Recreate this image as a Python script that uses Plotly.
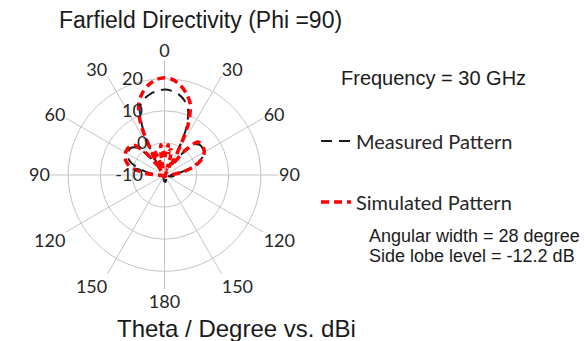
import plotly.graph_objects as go

# Theta cut (degrees, 0 = boresight, negative = left half)
theta_deg = [-180, -175, -170, -165, -160, -155, -150, -145, -140, -135, -130, -125,
             -120, -115, -110, -105, -100, -95, -90, -85, -80, -75, -70, -65,
             -60, -55, -50, -45, -40, -35, -30, -25, -20, -15, -10, -5,
             0, 5, 10, 15, 20, 25, 30, 35, 40, 45, 50, 55,
             60, 65, 70, 75, 80, 85, 90, 95, 100, 105, 110, 115,
             120, 125, 130, 135, 140, 145, 150, 155, 160, 165, 170, 175, 180]

# Measured directivity (dBi)
measured_dbi = [-8.0, -8.2, -8.6, -9.0, -9.3, -9.5, -9.6, -9.5, -9.4, -9.5, -9.6, -9.5,
                -9.4, -9.3, -9.2, -9.1, -9.0, -8.8, -8.0, -6.5, -4.0, -1.5, 1.0, 2.5,
                3.2, 3.5, 3.3, 2.0, -2.0, -6.0, -3.0, 6.0, 12.5, 14.5, 15.6, 16.3,
                16.6, 16.3, 15.5, 14.0, 11.5, 6.0, -3.0, -6.0, -1.0, 3.5, 4.5, 4.5,
                4.2, 3.0, 1.0, -1.5, -4.5, -7.0, -8.0, -7.0, -7.5, -8.5, -9.2, -9.5,
                -9.6, -9.5, -9.4, -9.5, -9.6, -9.5, -9.3, -9.0, -8.6, -8.2, -7.9, -7.8, -8.0]

# Simulated directivity (dBi)
simulated_dbi = [-9.5, -9.5, -9.6, -9.6, -9.5, -9.5, -9.6, -9.6, -9.5, -9.5, -9.6, -9.6,
                 -9.5, -9.5, -9.4, -9.3, -9.2, -9.0, -7.5, -4.0, -1.0, 1.5, 2.8, 3.6,
                 4.0, 4.1, 4.0, 3.0, -1.0, -6.5, -3.0, 7.5, 13.5, 16.5, 18.5, 19.8,
                 20.3, 19.8, 18.4, 16.3, 13.5, 7.5, -2.0, -6.5, 0.0, 4.5, 5.0, 4.8,
                 4.3, 3.2, 1.5, -1.0, -4.0, -7.0, -8.5, -9.0, -9.3, -9.5, -9.5, -9.6,
                 -9.6, -9.5, -9.5, -9.6, -9.6, -9.5, -9.5, -9.6, -9.6, -9.5, -9.5, -9.5, -9.5]

# Simulated rear-hemisphere ripple folded onto the same cut (dBi)
ripple_theta = [-45, -35, -28, -24, -20, -15, -10, -7, -3, 0, 3, 7, 10, 13, 15, 18, 22, 28, 35, 45]
ripple_dbi = [-10.0, -7.0, -3.0, -1.5, -4.0, -8.0, -4.0, -0.5, -3.0, -5.0, -3.0, -0.5,
              -3.0, -2.0, -1.9, -4.0, -8.0, -6.0, -9.0, -10.0]

angle_ticks = [0, 30, 60, 90, 120, 150, 180, 210, 240, 270, 300, 330]
angle_labels = ["0", "30", "60", "90", "120", "150", "180", "150", "120", "90", "60", "30"]
radial_ticks = [-10, 0, 10, 20]
radial_labels = ["-10", "0", "10", "20"]

# Radial labels sit just left of the vertical spoke: pad each label with
# trailing no-break spaces so its right edge clears the axis line.
NBSP = "\u00a0"
radial_pad = {"-10": 4, "0": 3, "10": 4, "20": 4}
radial_text = [lab + NBSP * radial_pad[lab] for lab in radial_labels]

LABEL_FONT = dict(family="Lato, Carlito, sans-serif", size=18, color="#262626")
LEGEND_FONT = dict(family="Lato, Carlito, sans-serif", size=20, color="#262626")
TEXT_FONT = "Liberation Sans, Arial, sans-serif"

fig = go.Figure()

fig.add_trace(go.Scatterpolar(
    theta=theta_deg, r=measured_dbi, mode="lines", name="Measured Pattern",
    line=dict(color="#1a1a1a", width=2, dash="11px,7px", shape="spline", smoothing=0.8),
    showlegend=True, legend="legend",
))
fig.add_trace(go.Scatterpolar(
    theta=theta_deg, r=simulated_dbi, mode="lines", name="Simulated Pattern",
    line=dict(color="#ff0000", width=3.5, dash="8px,5px", shape="spline", smoothing=0.8),
    showlegend=True, legend="legend2",
))
fig.add_trace(go.Scatterpolar(
    theta=ripple_theta, r=ripple_dbi, mode="lines", name="Simulated Pattern",
    line=dict(color="#ff0000", width=3.5, dash="6px,4px", shape="spline", smoothing=0.8),
    showlegend=False, legend="legend2",
))

R = 114  # pixel radius of the plotting disc
cx, cy = 164.5, 175.0
W, H = 584, 341

fig.update_layout(
    width=W, height=H,
    margin=dict(l=0, r=0, t=0, b=0),
    paper_bgcolor="white",
    plot_bgcolor="white",
    showlegend=True,
    polar=dict(
        domain=dict(x=[(cx - R) / W, (cx + R) / W], y=[(H - cy - R) / H, (H - cy + R) / H]),
        bgcolor="white",
        angularaxis=dict(
            rotation=90, direction="clockwise",
            tickmode="array", tickvals=angle_ticks, ticktext=angle_labels,
            showline=False, ticks="", gridcolor="#c4c4c4", gridwidth=1,
            tickfont=LABEL_FONT,
        ),
        radialaxis=dict(
            range=[-10, 25.5], angle=90, side="counterclockwise", tickangle=90,
            tickmode="array", tickvals=radial_ticks, ticktext=radial_text,
            showline=False, ticks="", gridcolor="#c4c4c4", gridwidth=1,
            tickfont=LABEL_FONT,
        ),
    ),
    legend=dict(
        x=316 / W, y=1 - 141 / H, xanchor="left", yanchor="middle",
        bgcolor="rgba(0,0,0,0)", font=LEGEND_FONT,
    ),
    legend2=dict(
        x=316 / W, y=1 - 202 / H, xanchor="left", yanchor="middle",
        bgcolor="rgba(0,0,0,0)", font=LEGEND_FONT,
    ),
    annotations=[
        dict(text="Farfield Directivity (Phi =90)", x=200 / W, y=1 - 20 / H,
             xref="paper", yref="paper", xanchor="center", yanchor="middle", showarrow=False,
             font=dict(family=TEXT_FONT, size=23, color="#1a1a1a")),
        dict(text="Frequency = 30 GHz", x=433 / W, y=1 - 78 / H,
             xref="paper", yref="paper", xanchor="center", yanchor="middle", showarrow=False,
             font=dict(family=TEXT_FONT, size=20, color="#1a1a1a")),
        dict(text="Angular width = 28 degree", x=367 / W, y=1 - 236 / H,
             xref="paper", yref="paper", xanchor="left", yanchor="middle", showarrow=False,
             font=dict(family=TEXT_FONT, size=18, color="#1a1a1a")),
        dict(text="Side lobe level = -12.2 dB", x=367 / W, y=1 - 256 / H,
             xref="paper", yref="paper", xanchor="left", yanchor="middle", showarrow=False,
             font=dict(family=TEXT_FONT, size=18, color="#1a1a1a")),
        dict(text="Theta / Degree vs. dBi", x=236 / W, y=1 - 328 / H,
             xref="paper", yref="paper", xanchor="center", yanchor="middle", showarrow=False,
             font=dict(family=TEXT_FONT, size=24, color="#1a1a1a")),
    ],
)

fig.write_html("out.html")
